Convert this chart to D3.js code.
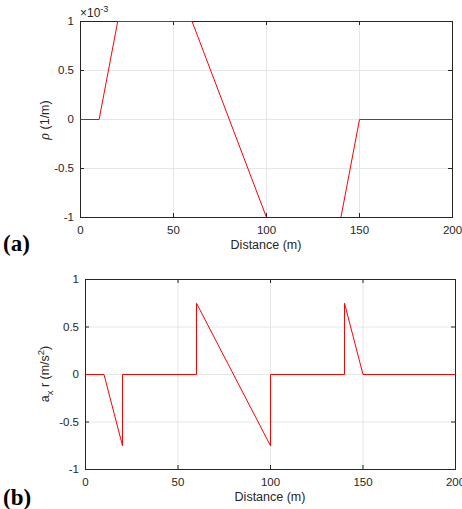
<!DOCTYPE html>
<html><head><meta charset="utf-8">
<script src="https://cdn.jsdelivr.net/npm/d3@7"></script>
<style>body{margin:0;background:#fff}svg{display:block}</style>
</head><body>
<script>
const rhoX = [0, 10, 20, 60, 100, 140, 150, 200];
const rhoY = [0, 0, 1, 1, -1, -1, 0, 0]; // ×10^-3
const axX = [0, 10, 20, 20, 60, 60, 100, 100, 140, 140, 150, 200];
const axY = [0, 0, -0.75, 0, 0, 0.75, -0.75, 0, 0, 0.75, 0, 0];
const xTicks = [0, 50, 100, 150, 200];
const yTicks = [-1, -0.5, 0, 0.5, 1];
const yTickLabels = ["-1", "-0.5", "0", "0.5", "1"];

const SANS = '"Liberation Sans",Arial,sans-serif';
const SERIF = '"Liberation Serif","Times New Roman",serif';
const W = 462, H = 509;
const svg = d3.select("body").append("svg").attr("width", W).attr("height", H);

function panel(cfg) {
  const x = d3.scaleLinear().domain([0, 200]).range([cfg.x0, cfg.x1]);
  const y = d3.scaleLinear().domain([-1, 1]).range([cfg.yb, cfg.yt]);
  const g = svg.append("g");
  g.selectAll(".gx").data(xTicks).enter().append("line")
    .attr("x1", d => x(d) + 0.5).attr("x2", d => x(d) + 0.5).attr("y1", cfg.yt).attr("y2", cfg.yb)
    .attr("stroke", "#e6e6e6").attr("stroke-width", 1);
  g.selectAll(".gy").data(yTicks).enter().append("line")
    .attr("y1", d => y(d) + 0.5).attr("y2", d => y(d) + 0.5).attr("x1", cfg.x0).attr("x2", cfg.x1)
    .attr("stroke", "#e6e6e6").attr("stroke-width", 1);
  const ax = d3.axisBottom(x).tickValues(xTicks).tickSize(0).tickPadding(9).tickFormat(d3.format("d"));
  const gxA = g.append("g").attr("transform", `translate(0,${cfg.yb})`).call(ax);
  const ay = d3.axisLeft(y).tickValues(yTicks).tickSize(0).tickPadding(6).tickFormat((d, i) => yTickLabels[i]);
  const gyA = g.append("g").attr("transform", `translate(${cfg.x0},0)`).call(ay);
  [gxA, gyA].forEach(a => {
    a.select(".domain").remove();
    a.selectAll("text").style("font-size", "11.5px").style("fill", "#262626").style("font-family", SANS);
  });
  xTicks.forEach(t => {
    g.append("line").attr("x1", x(t) + 0.5).attr("x2", x(t) + 0.5).attr("y1", cfg.yb).attr("y2", cfg.yb - 4).attr("stroke", "#262626");
    g.append("line").attr("x1", x(t) + 0.5).attr("x2", x(t) + 0.5).attr("y1", cfg.yt).attr("y2", cfg.yt + 4).attr("stroke", "#262626");
  });
  yTicks.forEach(t => {
    g.append("line").attr("y1", y(t) + 0.5).attr("y2", y(t) + 0.5).attr("x1", cfg.x0).attr("x2", cfg.x0 + 4).attr("stroke", "#262626");
    g.append("line").attr("y1", y(t) + 0.5).attr("y2", y(t) + 0.5).attr("x1", cfg.x1).attr("x2", cfg.x1 - 4).attr("stroke", "#262626");
  });
  g.append("rect").attr("x", cfg.x0 + 0.5).attr("y", cfg.yt + 0.5)
    .attr("width", cfg.x1 - cfg.x0).attr("height", cfg.yb - cfg.yt)
    .attr("fill", "none").attr("stroke", "#262626").attr("stroke-width", 1);
  // data on top
  const line = d3.line().x((d, i) => x(cfg.xs[i]) + 0.5).y((d, i) => y(cfg.ys[i]) + 0.5);
  svg.append("path").datum(cfg.ys).attr("d", line).attr("fill", "none")
    .attr("stroke", "#ff0000").attr("stroke-width", 1);
  // bottom edge redrawn over the data (as in the reference)
  svg.append("line").attr("x1", cfg.x0).attr("x2", cfg.x1 + 1).attr("y1", cfg.yb + 0.5).attr("y2", cfg.yb + 0.5)
    .attr("stroke", "#262626").attr("stroke-width", 1);
  g.append("text").attr("x", (cfg.x0 + cfg.x1) / 2).attr("y", cfg.yb + 32)
    .attr("text-anchor", "middle").style("font-size", "12.5px").style("font-family", SANS).style("fill", "#262626").text("Distance (m)");
  g.append("text").attr("x", 3).attr("y", cfg.letterY)
    .style("font-family", SERIF).style("font-weight", "bold")
    .style("font-size", "23px").style("fill", "#000").text(cfg.letter);
  return {g, x, y};
}

const pa = panel({id: "a", x0: 80, x1: 452, yt: 21, yb: 217, xs: rhoX, ys: rhoY, letter: "(a)", letterY: 251});
const pb = panel({id: "b", x0: 85, x1: 455, yt: 279, yb: 469, xs: axX, ys: axY, letter: "(b)", letterY: 505});

const la = pa.g.append("text").attr("transform", `translate(49,120) rotate(-90)`)
  .attr("text-anchor", "middle").style("font-size", "12.5px").style("font-family", SANS).style("fill", "#262626");
la.append("tspan").style("font-style", "italic").style("font-family", SERIF).style("font-size", "14px").text("ρ");
la.append("tspan").text(" (1/m)");

const lb = pb.g.append("text").attr("transform", `translate(49,374) rotate(-90)`)
  .attr("text-anchor", "middle").style("font-size", "12.5px").style("font-family", SANS).style("fill", "#262626");
lb.append("tspan").text("a");
lb.append("tspan").style("font-size", "9.5px").attr("dy", 4).text("x");
lb.append("tspan").attr("dy", -4).text(" r (m/s");
lb.append("tspan").style("font-size", "9.5px").attr("dy", -5).text("2");
lb.append("tspan").attr("dy", 5).text(")");

const ex = pa.g.append("text").attr("x", 80).attr("y", 17).style("font-size", "12px").style("font-family", SANS).style("fill", "#262626");
ex.append("tspan").text("×10");
ex.append("tspan").style("font-size", "9px").attr("dy", -5).text("-3");
</script>
</body></html>
